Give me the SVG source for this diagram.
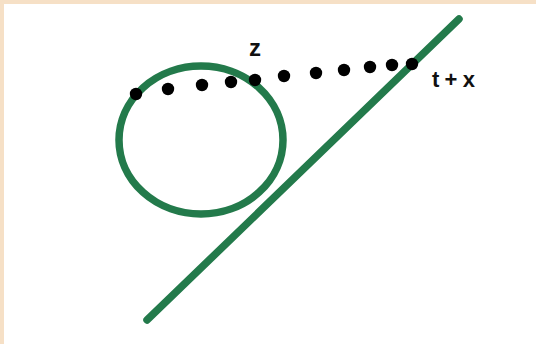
<svg xmlns="http://www.w3.org/2000/svg" width="536" height="344" viewBox="0 0 536 344">
<style>
.g{fill:none;stroke:#237a4b;stroke-width:7.5;stroke-linecap:round}
.d{fill:#000}
.t{font-family:"Liberation Sans",Arial,sans-serif;fill:#111;font-weight:bold}
</style>
<rect width="536" height="344" fill="#f6e0c6"/>
<rect x="4" y="4" width="532" height="340" fill="#fff"/>
<g id="circle"><ellipse class="g" cx="201" cy="140" rx="82" ry="74"/></g>
<g id="line"><line class="g" x1="459" y1="19" x2="147" y2="320"/></g>
<g id="dots">
<circle class="d" cx="136" cy="94" r="6.2"/>
<circle class="d" cx="168" cy="89" r="6.2"/>
<circle class="d" cx="202" cy="85" r="6.2"/>
<circle class="d" cx="231" cy="82" r="6.2"/>
<circle class="d" cx="255" cy="80" r="6.2"/>
<circle class="d" cx="284" cy="76" r="6.2"/>
<circle class="d" cx="316" cy="73" r="6.2"/>
<circle class="d" cx="344" cy="70" r="6.2"/>
<circle class="d" cx="370" cy="67" r="6.2"/>
<circle class="d" cx="392" cy="65" r="6.2"/>
<circle class="d" cx="412" cy="64" r="6.2"/>
</g>
<g id="label-z"><text class="t" x="249" y="56" font-size="24">z</text></g>
<g id="label-tx"><text class="t" x="432" y="87" font-size="22" textLength="43" lengthAdjust="spacing">t+x</text></g>
</svg>
